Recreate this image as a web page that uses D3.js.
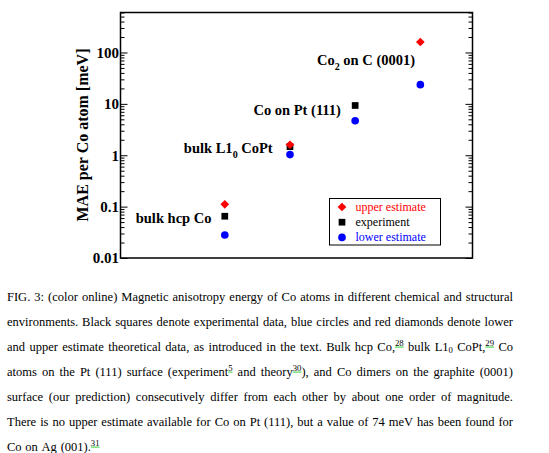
<!DOCTYPE html>
<html><head><meta charset="utf-8">
<script src="https://cdn.jsdelivr.net/npm/d3@7"></script>
<style>body{margin:0;background:#fff} svg{display:block}</style>
</head><body>
<svg id="c" width="549" height="453"></svg>
<script>
// ---- data ----
const categories = ["bulk hcp Co", "bulk L1_{0} CoPt", "Co on Pt (111)", "Co_{2} on C (0001)"];
const upperEstimate = [0.111, 1.6, null, 160];
const experiment = [0.065, 1.47, 9.3, null];
const lowerEstimate = [0.028, 1.03, 4.7, 23.6];
const yTickValues = [0.01, 0.1, 1, 10, 100];
const yTickLabels = ["0.01", "0.1", "1", "10", "100"];
const labelValues = [0.048, 1.09, 6.07, 55.8];
const legendLabels = ["upper estimate", "experiment", "lower estimate"];
const yTitle = "MAE per Co atom [meV]";
const captionLines = [
  "FIG. 3: (color online) Magnetic anisotropy energy of Co atoms in different chemical and structural",
  "environments. Black squares denote experimental data, blue circles and red diamonds denote lower",
  "and upper estimate theoretical data, as introduced in the text. Bulk hcp Co,^{28} bulk L1_{0} CoPt,^{29} Co",
  "atoms on the Pt (111) surface (experiment^{5} and theory^{30}), and Co dimers on the graphite (0001)",
  "surface (our prediction) consecutively differ from each other by about one order of magnitude.",
  "There is no upper estimate available for Co on Pt (111), but a value of 74 meV has been found for",
  "Co on Ag (001).^{31}"
];

// ---- layout ----
const svg = d3.select("#c");
const L = 120.5, R = 472.5, T = 12.5, B = 258;
const x = d3.scaleLinear().domain([-1.6, 3.8]).range([L, R]);
const y = d3.scaleLog().domain([0.01, 600]).range([B, T]);
const serif = "'Liberation Serif','Times New Roman',serif";
const RED = "#ff0000", BLUE = "#0000ff";

function parse(w) {
  const segs = []; const re = /\^\{([^}]*)\}|_\{([^}]*)\}|([^^_]+)/g; let m;
  while ((m = re.exec(w))) {
    if (m[1] !== undefined) segs.push({t: m[1], k: "sup"});
    else if (m[2] !== undefined) segs.push({t: m[2], k: "sub"});
    else segs.push({t: m[3], k: "n"});
  }
  return segs;
}

// minor ticks
const minors = [];
for (let e = -2; e <= 2; e++) for (let m = 2; m <= 9; m++) { const v = m * Math.pow(10, e); if (v <= 600) minors.push(v); }

const axL = svg.append("g").attr("transform", `translate(${L},0)`)
  .call(d3.axisLeft(y).tickValues(yTickValues).tickSizeInner(-7).tickSizeOuter(0).tickPadding(1.5)
    .tickFormat((d, i) => yTickLabels[i]));
axL.select(".domain").remove();
axL.selectAll("text").attr("font-family", serif).attr("font-weight", "bold").attr("font-size", 15).attr("fill", "#000");
const axLm = svg.append("g").attr("transform", `translate(${L},0)`)
  .call(d3.axisLeft(y).tickValues(minors).tickSizeInner(-4).tickSizeOuter(0).tickFormat(""));
axLm.select(".domain").remove();
const axR = svg.append("g").attr("transform", `translate(${R},0)`)
  .call(d3.axisRight(y).tickValues(yTickValues).tickSizeInner(-7).tickSizeOuter(0).tickFormat(""));
axR.select(".domain").remove();
const axRm = svg.append("g").attr("transform", `translate(${R},0)`)
  .call(d3.axisRight(y).tickValues(minors).tickSizeInner(-4).tickSizeOuter(0).tickFormat(""));
axRm.select(".domain").remove();
svg.selectAll(".tick line").attr("stroke", "#000").attr("stroke-width", 1);

svg.append("rect").attr("x", L).attr("y", T).attr("width", R - L).attr("height", B - T)
  .attr("fill", "none").attr("stroke", "#000").attr("stroke-width", 1.5);

// y title
svg.append("text").attr("transform", `translate(88,135) rotate(-90)`).attr("text-anchor", "middle")
  .attr("font-family", serif).attr("font-weight", "bold").attr("font-size", 16).text(yTitle);

// category labels
const labelDx = [13.3, 17.3, 14.3, 5.3];
categories.forEach((c, i) => {
  const t = svg.append("text").attr("x", x(i) - labelDx[i]).attr("y", y(labelValues[i]))
    .attr("text-anchor", "end").attr("font-family", serif).attr("font-weight", "bold").attr("font-size", 14.5);
  let off = 0;
  parse(c).forEach(s => {
    const want = s.k === "sub" ? 4.5 : 0;
    t.append("tspan").attr("dy", want - off).attr("font-size", s.k === "sub" ? 10 : 14.5).text(s.t);
    off = want;
  });
});

// markers
const sq = d3.symbol().type(d3.symbolSquare).size(45);
const dia = d3.symbol().type(d3.symbolSquare).size(38);
const circ = d3.symbol().type(d3.symbolCircle).size(46);
svg.append("g").selectAll("path").data(experiment.map((v, i) => [i, v]).filter(d => d[1] != null)).join("path")
  .attr("d", sq).attr("transform", d => `translate(${x(d[0])},${y(d[1])})`).attr("fill", "#000");
svg.append("g").selectAll("path").data(lowerEstimate.map((v, i) => [i, v]).filter(d => d[1] != null)).join("path")
  .attr("d", circ).attr("transform", d => `translate(${x(d[0])},${y(d[1])})`).attr("fill", BLUE);
svg.append("g").selectAll("path").data(upperEstimate.map((v, i) => [i, v]).filter(d => d[1] != null)).join("path")
  .attr("d", dia).attr("transform", d => `translate(${x(d[0])},${y(d[1])}) rotate(45)`).attr("fill", RED);

// legend
const lg = svg.append("g");
lg.append("rect").attr("x", 329.5).attr("y", 198.5).attr("width", 111).attr("height", 46.5)
  .attr("fill", "#fff").attr("stroke", "#000").attr("stroke-width", 1);
const legendSyms = [[dia, RED, 45], [sq, "#000", 0], [circ, BLUE, 0]];
legendLabels.forEach((lab, i) => {
  const ly = 207 + i * 15.2;
  lg.append("path").attr("d", legendSyms[i][0]).attr("fill", legendSyms[i][1])
    .attr("transform", `translate(342,${ly}) rotate(${legendSyms[i][2]})`);
  lg.append("text").attr("x", 355.5).attr("y", ly).attr("dy", "0.33em").attr("font-family", serif)
    .attr("font-size", 12).attr("fill", legendSyms[i][1]).text(lab);
});

// caption (justified)
const capX0 = 7, capX1 = 513, capFS = 12.5;
const cap = svg.append("g").attr("font-family", serif).attr("fill", "#000");
captionLines.forEach((line, li) => {
  const by = 300.5 + li * 25;
  const words = line.split(" ");
  const groups = words.map(w => {
    const g = cap.append("g");
    let cx = 0; const subs = [];
    parse(w).forEach(s => {
      const fs = s.k === "n" ? capFS : 8.7;
      const dy = s.k === "sup" ? -5 : (s.k === "sub" ? 2.5 : 0);
      const t = g.append("text").attr("x", cx).attr("y", dy).attr("font-size", fs).text(s.t);
      const wdt = t.node().getComputedTextLength();
      if (s.k === "sup") {
        g.append("line").attr("x1", cx).attr("x2", cx + wdt).attr("y1", dy + 1.6).attr("y2", dy + 1.6)
          .attr("stroke", "#22cc22").attr("stroke-width", 0.9);
      }
      cx += wdt;
    });
    return {g, w: cx};
  });
  const total = d3.sum(groups, d => d.w);
  const last = li === captionLines.length - 1;
  const gap = last ? capFS * 0.3 : (capX1 - capX0 - total) / (groups.length - 1);
  let px = capX0;
  groups.forEach(d => { d.g.attr("transform", `translate(${px},${by})`); px += d.w + gap; });
});
</script>
</body></html>
